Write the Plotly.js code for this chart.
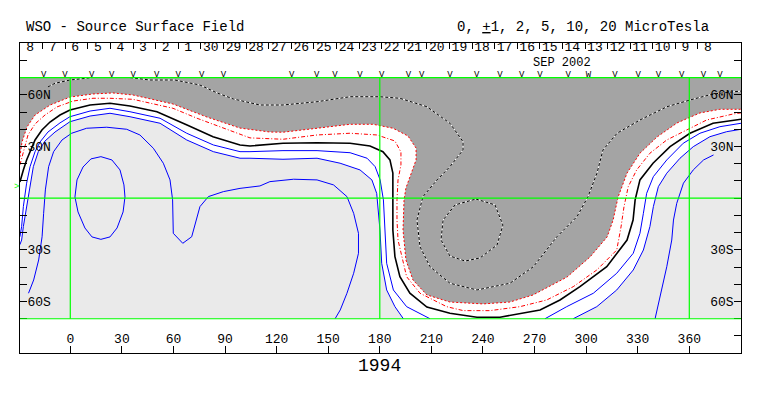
<!DOCTYPE html>
<html>
<head>
<meta charset="utf-8">
<script src="https://cdn.plot.ly/plotly-3.0.1.min.js"></script>
<style>html,body{margin:0;padding:0;background:#fff;}#chart{width:763px;height:396px;}</style>
</head>
<body>
<div id="chart"></div>
<script>
// ---------- DATA (longitude in degrees, latitude in degrees) ----------
const lonTicks = [0, 30, 60, 90, 120, 150, 180, 210, 240, 270, 300, 330, 360];
const latTicks = [-80, -70, -60, -50, -40, -30, -20, -10, 0, 10, 20, 30, 40, 50, 60, 70, 80];
const latTickText = ['', '', '60S', '', '', '30S', '', '', '', '', '', '30N', '', '', '60N', '', ''];

const dateLabels = ['8','7','6','5','4','3','2','1','30','29','28','27','26','25','24','23',
                    '22','21','20','19','18','17','16','15','14','13','12','11','10','9','8'];
const dateLons = [-23.4,-10.3,2.9,16.0,29.2,42.3,55.5,68.6,81.7,94.9,108.0,121.2,134.3,147.4,160.6,173.7,
                  186.9,200.0,213.1,226.3,239.4,252.6,265.7,278.8,292.0,305.1,318.3,331.4,344.5,357.7,370.8];
const obsLons = [-15.5,-3.1,12.4,24.1,36.6,50.2,62.8,76.4,89.0,128.8,143.3,153.9,168.5,181.1,
                 196.6,204.4,220.8,236.4,249.9,262.5,273.2,289.6,301.3,316.8,330.3,342.0,355.6,368.2,377.9];
const obsMarks = ['V','V','V','V','V','V','V','V','V','V','V','V','V','V',
                  'V','V','V','V','V','V','V','V','W','V','V','V','V','V','V'];

// contour -2 uT (boundary of negative (grey) region)
const neg2Lon = [-29.3,-28.1,-25.2,-20.5,-11.7,-0.2,13.2,24.8,36.5,46.4,59.7,79.5,98.7,116.2,123.7,143.5,162.7,176.1,187.7,196.4,201.1,201.1,198.1,195.2,194.1,193.5,195.2,199.3,207.4,220.8,240.0,255.7,269.1,288.9,302.3,312.2,315.7,318.6,323.8,331.3,341.2,352.9,366.2,377.8,390.1];
const neg2Lat = [23.9,32.6,41.3,48.3,54.1,58.7,60.5,61.1,59.9,57.6,54.7,47.1,40.7,38.4,38.3,40.6,42.9,42.9,40.6,36.1,29.1,22.2,14.1,5.9,-1.0,-18.5,-35.9,-47.5,-56.2,-60.3,-61.4,-60.3,-56.2,-45.8,-34.1,-22.5,-12.7,0.7,14.6,26.1,35.5,43.7,49.5,51.6,51.6];

// contour -1 uT
const neg1Lon = [-29.3,-26.9,-24.6,-20.5,-14.7,-7.7,1.6,13.2,23.1,36.5,46.4,59.7,73.7,83.0,104.5,123.7,143.5,162.7,178.4,188.8,192.3,192.3,190.6,190.0,190.0,190.6,192.7,195.6,203.4,218.9,228.6,244.1,261.5,277.1,292.5,306.2,317.8,320.3,322.0,324.5,329.4,337.1,346.9,358.5,370.1,385.6,390.1];
const neg1Lat = [19.3,28.0,36.7,43.1,48.3,53.0,56.4,58.0,58.0,57.4,55.3,52.2,46.4,42.9,35.0,34.2,36.7,37.7,36.7,33.2,26.8,19.3,10.6,-1.0,-12.7,-24.3,-34.1,-45.6,-55.2,-63.0,-65.3,-65.3,-63.0,-59.1,-51.4,-41.7,-30.1,-16.7,-5.1,6.7,16.4,26.1,33.8,39.6,45.4,48.9,49.5];

// contour 0 uT (neutral line)
const zeroLon = [-29.3,-28.7,-27.3,-25.4,-23.4,-20.5,-16.5,-11.8,-6.0,-0.2,11.5,23.1,34.7,50.4,67.9,83.0,98.7,104.5,123.7,143.5,162.7,174.3,181.8,185.9,187.6,187.6,187.6,188.8,191.7,197.5,207.4,220.8,236.5,249.9,257.6,273.2,284.8,296.4,312.0,319.7,323.8,327.3,328.5,331.3,338.9,348.8,360.4,373.8,390.1];
const zeroLat = [9.4,11.7,16.4,22.2,27.0,33.8,39.6,44.2,48.3,51.2,54.1,55.1,53.5,50.2,42.5,35.7,30.9,30.3,31.9,32.2,31.9,30.3,27.0,22.2,14.5,0.9,-18.5,-34.0,-45.6,-55.2,-63.2,-66.8,-69.1,-69.1,-67.8,-64.9,-59.1,-51.4,-39.8,-30.1,-24.3,-12.7,-1.0,10.6,20.3,29.9,37.7,43.5,45.8];

// contour +1 uT (two pieces)
const pos1aLon = [-29.3,-28.3,-27.3,-25.4,-23.4,-20.5,-17.6,-13.0,-6.0,-0.2,11.5,23.1,34.7,52.2,67.7,83.2,98.7,104.5,123.7,143.5,162.7,172.6,177.3,180.2,182.1,183.0,184.0,187.9,195.6,209.2];
const pos1aLat = [-22.4,-16.5,-4.9,8.7,18.3,27.0,32.6,38.4,43.7,47.3,50.6,52.2,50.2,46.4,37.7,30.9,27.0,27.0,27.6,27.6,26.4,23.2,18.3,10.6,-1.0,-18.5,-37.8,-53.3,-63.0,-70.0];
const pos1bLon = [276.1,288.7,304.2,317.8,327.4,331.3,333.3,335.2,339.1,346.9,356.5,366.2,377.8,390.1];
const pos1bLat = [-70.0,-63.0,-55.2,-43.6,-32.0,-20.4,-8.8,2.8,12.5,22.2,31.9,37.7,41.5,43.5];

// contour +2 uT (boundary of light grey positive region, two pieces)
const pos2aLon = [-29.3,-28.3,-27.3,-25.4,-23.4,-21.5,-18.6,-14.7,-8.9,-0.2,11.5,23.1,34.7,52.2,67.7,83.2,98.7,104.5,123.7,143.5,156.9,168.5,175.4,178.2,180.1,181.1,184.0,188.8,193.7];
const pos2aLat = [-27.0,-24.3,-16.5,-4.9,8.7,18.3,27.0,33.2,38.4,44.4,47.7,49.3,47.3,43.5,33.8,27.0,23.2,23.2,22.6,23.2,20.3,16.4,10.6,2.8,-18.5,-37.8,-53.3,-63.0,-70.0];
const pos2bLon = [292.5,306.2,317.8,327.4,333.3,337.1,339.1,342.0,346.9,354.6,362.3,372.0,381.7,390.1];
const pos2bLat = [-70.0,-63.0,-53.3,-41.7,-30.1,-16.5,-4.9,6.7,14.5,23.2,29.9,35.7,38.6,40.0];

// contour +5 uT (two pieces)
const pos5aLon = [-24.3,-21.3,-18.4,-16.4,-15.5,-14.5,-12.6,-9.7,-4.8,0.8,9.5,21.2,32.8,40.5,48.3,54.1,58.0,59.5,59.9,65.4,70.6,73.5,75.4,80.3,89.0,98.7,110.3,116.1,129.9,143.5,153.1,160.9,164.8,167.6,167.6,164.8,160.9,157.0,154.0];
const pos5aLat = [-55.2,-47.5,-35.9,-22.4,-8.8,4.8,18.3,27.0,33.8,37.7,40.6,41.2,40.0,36.7,29.0,20.3,10.6,-1.0,-20.4,-26.2,-22.4,-12.7,-4.9,0.9,3.8,5.7,7.1,9.6,11.0,10.6,7.7,0.9,-8.8,-20.4,-32.0,-43.6,-55.2,-64.9,-70.0];
const pos5bLon = [340.1,343.0,346.9,349.8,350.8,352.7,356.6,362.3,368.3,374.1];
const pos5bLat = [-70.0,-57.2,-39.8,-24.3,-12.7,-3.0,8.7,16.4,22.2,25.1];

// contour +10 uT (closed loop)
const pos10Lon = [17.8,24.2,28.9,31.2,31.8,30.7,27.2,23.1,17.8,12.6,8.5,4.5,2.7,3.9,7.4,12.0,17.8];
const pos10Lat = [24.1,22.2,16.4,7.7,0.7,-8.0,-17.3,-22.5,-23.9,-22.5,-17.3,-8.0,0.7,10.6,18.1,22.8,24.1];

// contour -5 uT (two pieces)
const neg5aLon = [-13.0,-8.9,-0.2,12.6];
const neg5aLat = [64.6,66.7,68.6,70.0];
const neg5bLon = [34.7,46.4,60.9,75.4,85.4,94.8,110.3,123.7,143.5,162.7,180.1,191.7,207.4,220.8,228.4,228.4,220.8,213.3,205.1,201.6,203.4,209.2,220.8,236.5,255.7,269.3,283.0,294.7,301.1,306.3,309.8,318.0,331.3,347.0,360.4,373.8,390.1];
const neg5bLat = [70.0,68.6,68.6,65.7,61.1,57.6,54.1,54.1,56.0,58.9,58.9,58.0,53.1,43.5,32.8,28.0,18.3,10.6,0.9,-12.7,-28.2,-39.8,-49.4,-53.3,-49.4,-39.8,-22.4,-10.7,0.9,14.5,28.0,37.7,45.4,53.1,57.0,60.5,62.2];

// contour -10 uT (closed loop)
const neg10Lon = [235.9,247.0,251.6,248.2,238.3,229.6,220.8,215.6,216.8,223.8,235.9];
const neg10Lat = [-0.5,-3.9,-15.6,-27.2,-34.7,-36.5,-33.6,-24.3,-12.7,-3.9,-0.5];

// ---------- LAYOUT CONSTANTS ----------
const LON_MIN = -29.25, LON_MAX = 390.07;
const LAT_MIN = -89.9, LAT_MAX = 90.1;
const MAP_LAT = 70;
const DATE_ROW_LAT = 87.4, OBS_ROW_LAT = 71.9;
const FONT = '"Liberation Mono", "Courier New", monospace';
const GREY = '#a4a4a4', LIGHT = '#eaeaea', GREEN = '#00ff00';

// white band polygon: negative side of +2 contour
const whiteLon = [LON_MIN].concat(pos2aLon, pos2bLon, [LON_MAX, LON_MAX, LON_MIN]);
const whiteLat = [pos2aLat[0]].concat(pos2aLat, pos2bLat, [pos2bLat[pos2bLat.length-1], MAP_LAT, MAP_LAT]);
// grey polygon: negative side of -2 contour
const greyLon = neg2Lon.concat([LON_MAX, LON_MIN]);
const greyLat = neg2Lat.concat([MAP_LAT, MAP_LAT]);

function line(x, y, color, width, dash) {
  return {x: x, y: y, type: 'scatter', mode: 'lines', hoverinfo: 'skip',
          line: {color: color, width: width, dash: dash || 'solid'}, showlegend: false};
}

const traces = [
  {x: whiteLon, y: whiteLat, type: 'scatter', mode: 'lines', fill: 'toself', fillcolor: '#ffffff',
   line: {width: 0, color: 'rgba(0,0,0,0)'}, hoverinfo: 'skip', showlegend: false},
  {x: greyLon, y: greyLat, type: 'scatter', mode: 'lines', fill: 'toself', fillcolor: GREY,
   line: {width: 0, color: 'rgba(0,0,0,0)'}, hoverinfo: 'skip', showlegend: false},
  line(pos10Lon, pos10Lat, '#0000ff', 1),
  line(pos5aLon, pos5aLat, '#0000ff', 1),
  line(pos5bLon, pos5bLat, '#0000ff', 1),
  line(pos2aLon, pos2aLat, '#0000ff', 1),
  line(pos2bLon, pos2bLat, '#0000ff', 1),
  line(pos1aLon, pos1aLat, '#0000ff', 1),
  line(pos1bLon, pos1bLat, '#0000ff', 1),
  line(zeroLon, zeroLat, '#000000', 1.6),
  line(neg1Lon, neg1Lat, '#ff0000', 1, '4px,2px,1px,2px'),
  line(neg2Lon, neg2Lat, '#ff0000', 1, '2px,2px'),
  line(neg5aLon, neg5aLat, '#ffffff', 1),
  line(neg5aLon, neg5aLat, '#000000', 1, '3px,2px'),
  line(neg5bLon, neg5bLat, '#ffffff', 1),
  line(neg5bLon, neg5bLat, '#000000', 1, '3px,2px'),
  line(neg10Lon, neg10Lat, '#ffffff', 1),
  line(neg10Lon, neg10Lat, '#000000', 1, '3px,2px'),
  // date labels along the top
  {x: dateLons, y: dateLons.map(() => DATE_ROW_LAT), text: dateLabels, type: 'scatter', mode: 'text',
   xaxis: 'x2', yaxis: 'y2', textfont: {family: FONT, size: 13, color: '#000'},
   cliponaxis: false, hoverinfo: 'skip', showlegend: false},
  // observation day markers
  {x: obsLons, y: obsLons.map(() => OBS_ROW_LAT), text: obsMarks, type: 'scatter', mode: 'text',
   textfont: {family: FONT, size: 9, color: '#000'}, cliponaxis: false, hoverinfo: 'skip', showlegend: false}
];

// date tick marks between labels
const dateTickLons = dateLons.slice(0, -1).map((v, i) => (v + dateLons[i+1]) / 2 + 0.8)
  .concat([dateLons[dateLons.length-1] + 6.6 + 0.8]);

const shapes = [
  {type: 'rect', xref: 'x', yref: 'y', x0: LON_MIN, x1: LON_MAX, y0: -MAP_LAT, y1: MAP_LAT,
   fillcolor: LIGHT, line: {width: 0}, layer: 'below'}
];
[0, 180, 360].forEach(v => shapes.push({type: 'line', xref: 'x', yref: 'y', x0: v, x1: v, y0: -MAP_LAT, y1: MAP_LAT,
  line: {color: GREEN, width: 1.2}, layer: 'above'}));
[-MAP_LAT, 0, MAP_LAT].forEach(v => shapes.push({type: 'line', xref: 'x', yref: 'y', x0: LON_MIN, x1: LON_MAX, y0: v, y1: v,
  line: {color: GREEN, width: 1.2}, layer: 'above'}));

const axisFont = {family: FONT, size: 13, color: '#000'};

const layout = {
  width: 763, height: 396,
  margin: {l: 20, r: 22, t: 43, b: 43, pad: 0},
  paper_bgcolor: '#ffffff', plot_bgcolor: '#ffffff',
  showlegend: false,
  xaxis: {range: [LON_MIN, LON_MAX], showgrid: false, zeroline: false, showline: true, mirror: true,
          linecolor: '#000', linewidth: 1, ticks: 'inside', ticklen: 7, tickcolor: '#000', tickwidth: 1,
          tickvals: lonTicks, ticktext: lonTicks.map(String), ticklabelposition: 'inside',
          tickfont: axisFont, fixedrange: true},
  xaxis2: {range: [LON_MIN, LON_MAX], overlaying: 'x', side: 'top', showgrid: false, zeroline: false,
           showline: false, ticks: 'inside', ticklen: 6, tickcolor: '#000', tickwidth: 1,
           tickvals: dateTickLons, showticklabels: false, fixedrange: true},
  yaxis: {range: [LAT_MIN, LAT_MAX], showgrid: false, zeroline: false, showline: true, mirror: true,
          linecolor: '#000', linewidth: 1, ticks: 'inside', ticklen: 7, tickcolor: '#000', tickwidth: 1,
          tickvals: latTicks, ticktext: latTickText, ticklabelposition: 'inside',
          tickfont: axisFont, fixedrange: true},
  yaxis2: {range: [LAT_MIN, LAT_MAX], overlaying: 'y', side: 'right', showgrid: false, zeroline: false,
           showline: false, ticks: 'inside', ticklen: 7, tickcolor: '#000', tickwidth: 1,
           tickvals: latTicks, ticktext: latTickText, ticklabelposition: 'inside',
           tickfont: axisFont, fixedrange: true},
  shapes: shapes,
  annotations: [
    {text: 'WSO - Source Surface Field', xref: 'paper', yref: 'paper', x: 0.0055, y: 1.0516,
     xanchor: 'left', yanchor: 'middle', showarrow: false, font: {family: FONT, size: 14, color: '#000'}},
    {text: '0, <u>+</u>1, 2, 5, 10, 20 MicroTesla', xref: 'paper', yref: 'paper', x: 0.958, y: 1.0516,
     xanchor: 'right', yanchor: 'middle', showarrow: false, font: {family: FONT, size: 14, color: '#000'}},
    {text: 'SEP 2002', xref: 'paper', yref: 'paper', x: 0.752, y: 0.934,
     xanchor: 'center', yanchor: 'middle', showarrow: false, borderpad: 0,
     font: {family: FONT, size: 12, color: '#000'}},
    {text: '1994', xref: 'paper', yref: 'paper', x: 0.4993, y: -0.042,
     xanchor: 'center', yanchor: 'middle', showarrow: false, font: {family: FONT, size: 18, color: '#000'}},
    {text: '>', xref: 'paper', yref: 'paper', x: -0.0046, y: 0.536,
     xanchor: 'center', yanchor: 'middle', showarrow: false, font: {family: FONT, size: 9, color: GREEN}}
  ]
};

Plotly.newPlot('chart', traces, layout, {staticPlot: true, displayModeBar: false});
</script>
</body>
</html>
